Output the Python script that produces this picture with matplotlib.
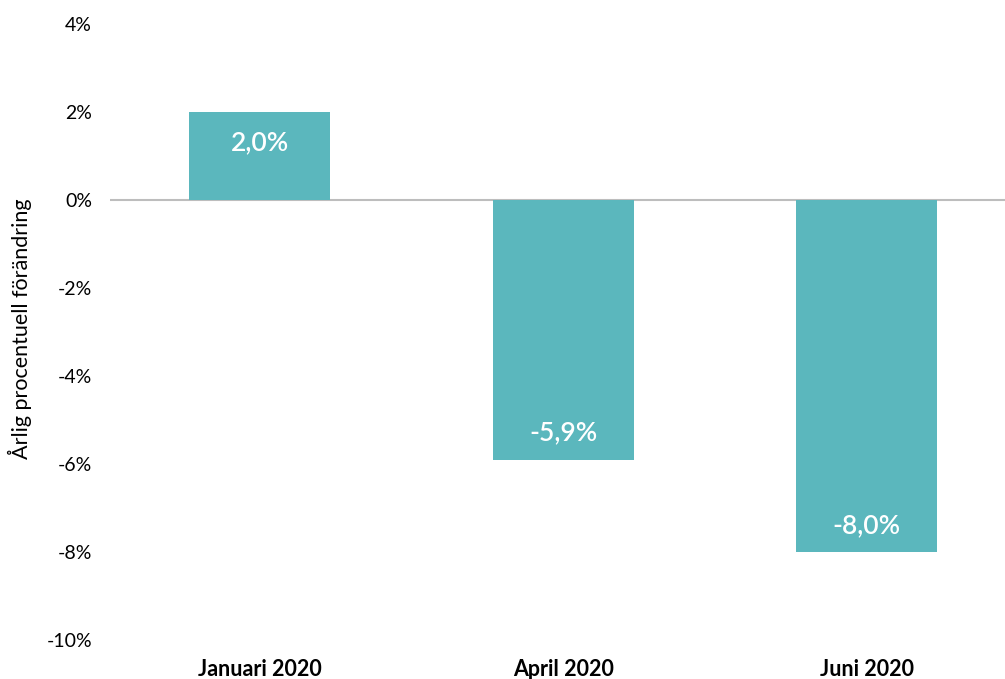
import matplotlib.pyplot as plt
import numpy as np

categories = ["Januari 2020", "April 2020", "Juni 2020"]
values = [2.0, -5.9, -8.0]
yticks = [4, 2, 0, -2, -4, -6, -8, -10]

plt.rcParams["font.family"] = ["Lato", "DejaVu Sans"]

fig = plt.figure(figsize=(10.05, 6.79), dpi=100)
ax = fig.add_axes([110 / 1005, 1 - 640 / 679, 1 - 110 / 1005, (640 - 24) / 679])

x = np.arange(len(categories))
bars = ax.bar(x, values, width=0.465, color="#5bb7bd", zorder=2)

for xi, v in zip(x, values):
    label = f"{v:.1f}%".replace(".", ",")
    ax.text(xi, v - 0.7 if v > 0 else v + 0.6, label, ha="center", va="center",
            color="white", fontsize=19, fontweight="semibold", zorder=3)

ax.axhline(0, color="#bdbdbd", lw=1.5, zorder=1)

ax.set_xlim(-0.494, 2.455)
ax.set_ylim(-10, 4)
ax.set_yticks(yticks)
ax.set_yticklabels([f"{t}%" for t in yticks], fontsize=14)
ax.set_xticks(x)
ax.set_xticklabels(categories, fontsize=15.5, fontweight="bold")
ax.tick_params(axis="both", length=0)
ax.tick_params(axis="y", pad=13)
ax.tick_params(axis="x", pad=14)

for s in ax.spines.values():
    s.set_visible(False)

ax.set_ylabel("Årlig procentuell förändring", fontsize=15.5)
ax.yaxis.set_label_coords(-78 / 895, 0.505)

plt.savefig("out.png", dpi=100)
